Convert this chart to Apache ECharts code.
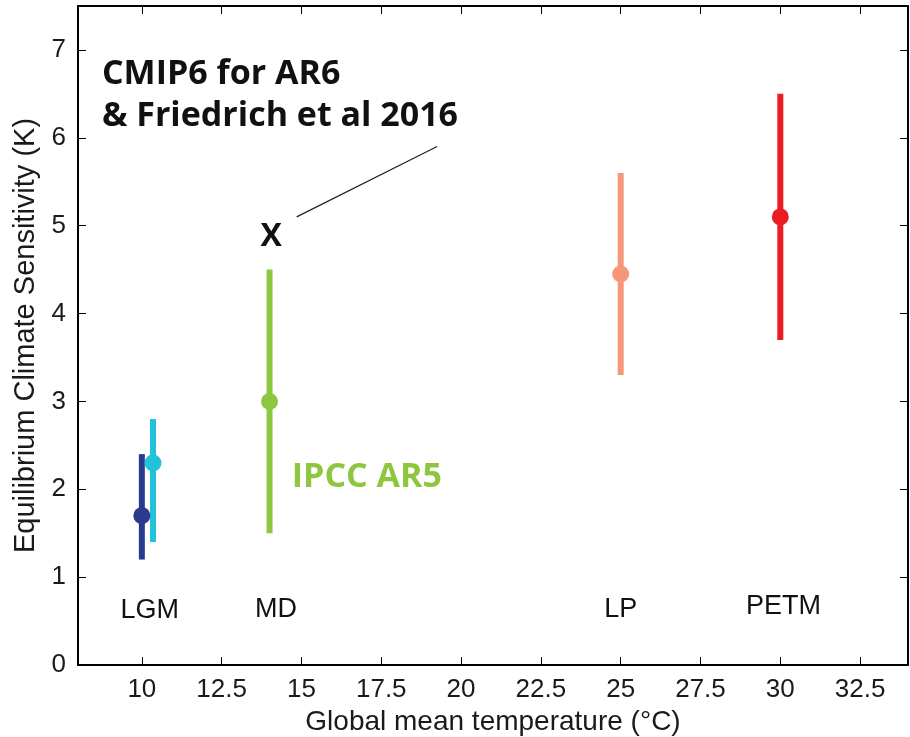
<!DOCTYPE html>
<html>
<head>
<meta charset="utf-8">
<script src="https://cdn.jsdelivr.net/npm/echarts@6/dist/echarts.min.js"></script>
<style>html,body{margin:0;padding:0;background:#fff;}#c{width:910px;height:737px;}</style>
</head>
<body>
<div id="c"></div>
<script>
// ---- data ----
var periods = ['LGM', 'LGM', 'MD', 'LP', 'PETM'];
var temps = [10, 10.35, 14, 25, 30];
var ecsCentral = [1.7, 2.3, 3.0, 4.45, 5.1];
var ecsLow = [1.2, 1.4, 1.5, 3.3, 3.7];
var ecsHigh = [2.4, 2.8, 4.5, 5.6, 6.5];
var colors = ['#2a3b8f', '#22c1dc', '#8dc63f', '#f7977a', '#ed1c24'];

var periodLabels = ['LGM', 'MD', 'LP', 'PETM'];
var periodLabelX = [10.25, 14.2, 25, 30.1];
var periodLabelY = [0.62, 0.63, 0.63, 0.66];

var cmipPoint = [14.05, 4.87];
var leaderLine = [[14.85, 5.1], [19.25, 5.9]];

var xTicks = [10, 12.5, 15, 17.5, 20, 22.5, 25, 27.5, 30, 32.5];
var yTicks = [0, 1, 2, 3, 4, 5, 6, 7];

// ---- chart ----
var chart = echarts.init(document.getElementById('c'));
var font = 'Liberation Sans, Arial, Helvetica, sans-serif';
var boldFont = '"Open Sans", Lato, sans-serif';
var solid = {opacity: 1};

function axisCommon(extra) {
  return Object.assign({
    type: 'value',
    splitLine: {show: false},
    axisLine: {show: true, onZero: false, lineStyle: {color: '#000', width: 2}},
    axisTick: {show: true, inside: true, length: 8, lineStyle: {color: '#000', width: 1}},
  }, extra);
}

var errorData = temps.map(function (t, i) { return [t, ecsLow[i], ecsHigh[i], i]; });
var pointData = temps.map(function (t, i) {
  return {value: [t, ecsCentral[i]], itemStyle: {color: colors[i], opacity: 1}};
});
var labelData = periodLabels.map(function (p, i) { return {value: [periodLabelX[i], periodLabelY[i]], name: p}; });

chart.setOption({
  animation: false,
  backgroundColor: '#fff',
  grid: {left: 78, right: 2, top: 6, bottom: 72, containLabel: false, outerBoundsMode: 'none'},
  xAxis: [
    axisCommon({
      min: 8, max: 34, position: 'bottom',
      name: 'Global mean temperature (°C)', nameLocation: 'middle', nameGap: 39,
      nameTextStyle: {fontFamily: font, fontSize: 28, color: '#1a1a1a'},
      axisTick: {show: true, inside: true, length: 8, customValues: xTicks, lineStyle: {color: '#000'}},
      axisLabel: {customValues: xTicks, fontFamily: font, fontSize: 26, color: '#1a1a1a', margin: 12}
    }),
    axisCommon({
      min: 8, max: 34, position: 'top',
      axisTick: {show: true, inside: true, length: 8, customValues: xTicks, lineStyle: {color: '#000'}},
      axisLabel: {show: false}
    })
  ],
  yAxis: [
    axisCommon({
      min: 0, max: 7.5, position: 'left',
      name: 'Equilibrium Climate Sensitivity (K)', nameLocation: 'middle', nameGap: 35,
      nameTextStyle: {fontFamily: font, fontSize: 29, color: '#1a1a1a'},
      axisTick: {show: true, inside: true, length: 8, customValues: yTicks, lineStyle: {color: '#000'}},
      axisLabel: {customValues: yTicks, fontFamily: font, fontSize: 26, color: '#1a1a1a', margin: 12}
    }),
    axisCommon({
      min: 0, max: 7.5, position: 'right',
      axisTick: {show: true, inside: true, length: 8, customValues: yTicks, lineStyle: {color: '#000'}},
      axisLabel: {show: false}
    })
  ],
  series: [
    {
      type: 'custom',
      data: errorData,
      renderItem: function (params, api) {
        var x = api.value(0);
        var p1 = api.coord([x, api.value(1)]);
        var p2 = api.coord([x, api.value(2)]);
        return {
          type: 'line',
          shape: {x1: p1[0], y1: p1[1], x2: p2[0], y2: p2[1]},
          style: {stroke: colors[api.value(3)], lineWidth: 6}
        };
      },
      z: 2
    },
    {
      type: 'scatter',
      data: pointData,
      symbol: 'circle',
      symbolSize: 17,
      itemStyle: solid,
      z: 3
    },
    {
      type: 'scatter',
      data: labelData,
      symbolSize: 0,
      itemStyle: solid,
      label: {
        show: true, position: 'inside', formatter: function (p) { return p.name; },
        fontFamily: font, fontSize: 27, color: '#111'
      }
    },
    {
      type: 'scatter',
      data: [cmipPoint],
      symbolSize: 0,
      itemStyle: solid,
      label: {
        show: true, position: 'inside', formatter: 'X',
        fontFamily: boldFont, fontWeight: 'bold', fontSize: 32, color: '#111'
      }
    },
    {
      type: 'line',
      data: leaderLine,
      symbol: 'none',
      lineStyle: {color: '#222', width: 1.2}
    },
    {
      type: 'scatter',
      data: [{value: [17.05, 2.14], name: 'IPCC AR5'}],
      symbolSize: 0,
      itemStyle: solid,
      label: {
        show: true, position: 'inside', formatter: function (p) { return p.name; },
        fontFamily: boldFont, fontWeight: 'bold', fontSize: 34, color: '#8dc63f'
      }
    },
    {
      type: 'scatter',
      data: [{value: [8.75, 6.72], name: 'CMIP6 for AR6'}, {value: [8.75, 6.24], name: '& Friedrich et al 2016'}],
      symbolSize: 0,
      itemStyle: solid,
      label: {
        show: true, position: 'right', distance: 0, formatter: function (p) { return p.name; },
        fontFamily: boldFont, fontWeight: 'bold', fontSize: 34, color: '#111'
      }
    }
  ]
});
</script>
</body>
</html>
